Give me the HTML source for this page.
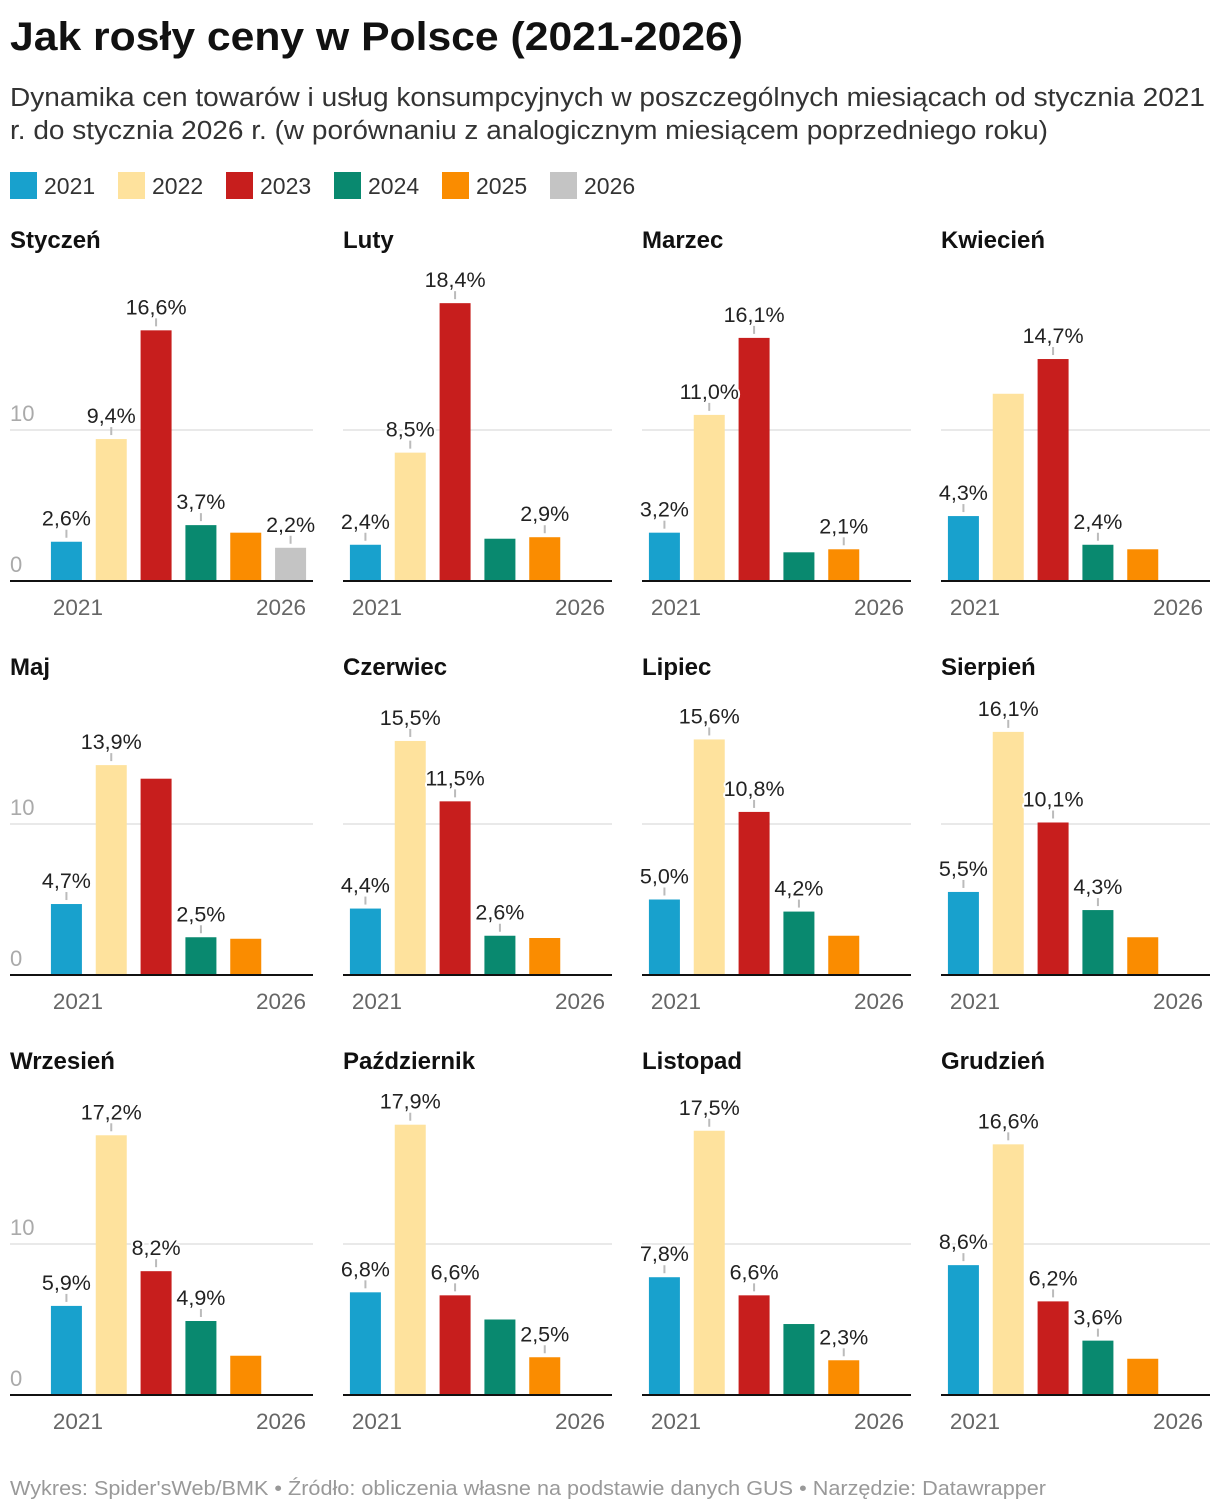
<!DOCTYPE html>
<html><head><meta charset="utf-8">
<style>
body{margin:0;background:#fff;}
svg{display:block;font-family:"Liberation Sans",sans-serif;}
</style></head>
<body>
<svg id="chart" width="1220" height="1512" viewBox="0 0 1220 1512">
<text x="10" y="50" font-size="40" font-weight="bold" fill="#111" textLength="733" lengthAdjust="spacingAndGlyphs">Jak rosły ceny w Polsce (2021-2026)</text>
<text x="10" y="106" font-size="25.5" fill="#333" textLength="1195" lengthAdjust="spacingAndGlyphs">Dynamika cen towarów i usług konsumpcyjnych w poszczególnych miesiącach od stycznia 2021</text>
<text x="10" y="139" font-size="25.5" fill="#333" textLength="1038" lengthAdjust="spacingAndGlyphs">r. do stycznia 2026 r. (w porównaniu z analogicznym miesiącem poprzedniego roku)</text>
<g id="legend"></g>
<g id="panels"></g>
<text x="10" y="1495" font-size="20" fill="#999" textLength="1036" lengthAdjust="spacingAndGlyphs">Wykres: Spider'sWeb/BMK • Źródło: obliczenia własne na podstawie danych GUS • Narzędzie: Datawrapper</text>
</svg>
<script>
const years = ["2021","2022","2023","2024","2025","2026"];
const colors = ["#18a1cd","#fee29d","#c71e1d","#09896f","#fa8c00","#c4c4c4"];
const months = ["Styczeń","Luty","Marzec","Kwiecień","Maj","Czerwiec","Lipiec","Sierpień","Wrzesień","Październik","Listopad","Grudzień"];
const v2021 = [2.6,2.4,3.2,4.3,4.7,4.4,5.0,5.5,5.9,6.8,7.8,8.6];
const v2022 = [9.4,8.5,11.0,12.4,13.9,15.5,15.6,16.1,17.2,17.9,17.5,16.6];
const v2023 = [16.6,18.4,16.1,14.7,13.0,11.5,10.8,10.1,8.2,6.6,6.6,6.2];
const v2024 = [3.7,2.8,1.9,2.4,2.5,2.6,4.2,4.3,4.9,5.0,4.7,3.6];
const v2025 = [3.2,2.9,2.1,2.1,2.4,2.45,2.6,2.5,2.6,2.5,2.3,2.4];
const v2026 = [2.2,null,null,null,null,null,null,null,null,null,null,null];
const shown = [
 [1,1,1,1,0,1],[1,1,1,0,1,0],[1,1,1,0,1,0],[1,0,1,1,0,0],
 [1,1,0,1,0,0],[1,1,1,1,0,0],[1,1,1,1,0,0],[1,1,1,1,0,0],
 [1,1,1,1,0,0],[1,1,1,0,1,0],[1,1,1,0,1,0],[1,1,1,1,0,0]];
const yTicks = [0,10];
const series = [v2021,v2022,v2023,v2024,v2025,v2026];

const NS="http://www.w3.org/2000/svg";
function mk(tag, attrs, parent){const e=document.createElementNS(NS,tag);for(const k in attrs)e.setAttribute(k,attrs[k]);parent.appendChild(e);return e;}

const lg=document.getElementById('legend');
const lgX=[10,118,226,334,442,550];
years.forEach((y,i)=>{
  const r=mk('rect',{x:lgX[i],y:172,width:27,height:27,fill:colors[i]},lg);
  
  
  const t=mk('text',{x:lgX[i]+34,y:194,'font-size':23,fill:'#333'},lg);
  t.textContent=y;
  
  
});

const panels=document.getElementById('panels');
const colStart=[44,343,642,941];
const baseY=[581,975,1395];
const titleY=[248,675,1069];
const PW=269, scale=15.1, band=PW/6, bw=31;
months.forEach((m,mi)=>{
  const col=mi%4,row=Math.floor(mi/4);
  const x0=colStart[col], by=baseY[row];
  const left = col===0?10:x0;
  const g=mk('g',{},panels);
  
  
  const tt=mk('text',{x:left,y:titleY[row],'font-size':24,'font-weight':'bold',fill:'#111'},g);
  tt.textContent=m;
  
  
  const yS=v=>by-v*scale;
  yTicks.forEach(t=>{
    if(t>0){const gl=mk('line',{x1:left,x2:x0+PW,y1:yS(t),y2:yS(t),stroke:'#e2e2e2','stroke-width':1.5},g);
      
      }
    if(col===0){const tl=mk('text',{x:10,y:yS(t)-9,'font-size':22,fill:'#aaa'},g);
      tl.textContent=t;
      
      }
  });
  const xS=i=>x0+i*band+(band-bw)/2;
  series.forEach((s,si)=>{
    const v=s[mi]; if(v==null) return;
    const r=mk('rect',{x:xS(si),y:yS(v),width:bw,height:v*scale,fill:colors[si]},g);
    
    
  });
  const bl=mk('line',{x1:left,x2:x0+PW,y1:by,y2:by,stroke:'#111','stroke-width':2},g);
  
  
  series.forEach((s,si)=>{
    const v=s[mi]; if(v==null||!shown[mi][si]) return;
    const cx=xS(si)+bw/2, top=yS(v);
    const tk=mk('line',{x1:cx,x2:cx,y1:top-12,y2:top-4,stroke:'#bbb','stroke-width':2},g);
    
    
    const t=mk('text',{x:cx,y:top-16,'font-size':21.5,fill:'#222','text-anchor':'middle',stroke:'#fff','stroke-width':4,'paint-order':'stroke','stroke-linejoin':'round'},g);
    t.textContent=v.toFixed(1).replace('.',',')+'%';
    
    
  });
  const t1=mk('text',{x:xS(0)+2,y:by+34,'font-size':22.5,fill:'#666','text-anchor':'start'},g);
  t1.textContent='2021';
  
  
  const t2=mk('text',{x:xS(5)+bw,y:by+34,'font-size':22.5,fill:'#666','text-anchor':'end'},g);
  t2.textContent='2026';
  
  
});
</script>
</body></html>
